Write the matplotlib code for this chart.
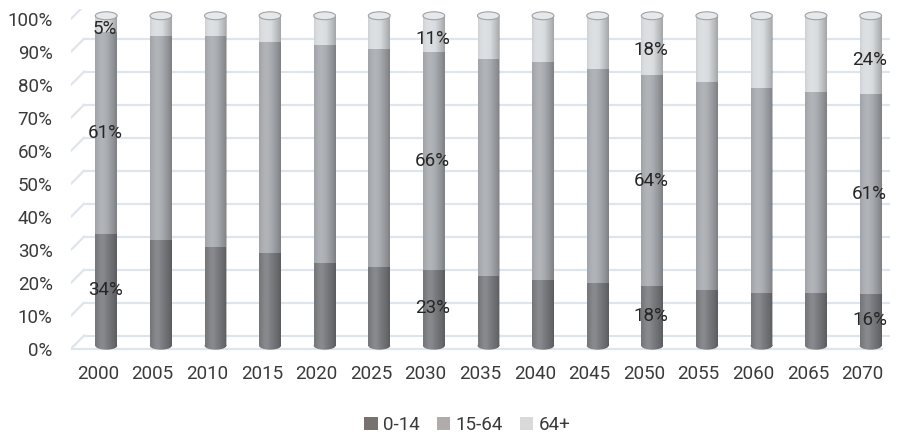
import numpy as np
import matplotlib.pyplot as plt
from matplotlib.patches import Rectangle, Ellipse

plt.rcParams['font.family'] = ['Roboto', 'DejaVu Sans']

years = ['2000', '2005', '2010', '2015', '2020', '2025', '2030', '2035',
         '2040', '2045', '2050', '2055', '2060', '2065', '2070']
young = [34, 32, 30, 28, 25, 24, 23, 21, 20, 19, 18, 17, 16, 16, 15.6]
working = [61, 62, 64, 64, 66, 66, 66, 66, 66, 65, 64, 63, 62, 61, 60.8]
old = [5, 6, 6, 8, 9, 10, 11, 13, 14, 16, 18, 20, 22, 23, 23.6]
labeled = ['2000', '2030', '2050', '2070']
groups = ['0-14', '15-64', '64+']

bar_cols = ['#7a7c80', '#a8abaf', '#d9dcdf']
leg_cols = ['#77716f', '#b1acab', '#d9d9da']
grid_col = '#dfe5ec'
txt_col = '#3a3a3a'

fig = plt.figure(figsize=(8.99, 4.36), dpi=100)
ax = fig.add_axes([0.0787, 0.192, 0.911, 0.787])
ax.set_xlim(-0.5, 14.5)
ax.set_ylim(-1, 103)
for s in ax.spines.values():
    s.set_visible(False)

# fake 3d gridlines: front edge at the label, back wall a bit higher
depth = 4.0
for v in range(0, 101, 10):
    ax.plot([-0.5, -0.26], [v, v + depth], color=grid_col, lw=1.6, zorder=1)
    ax.plot([-0.26, 14.5], [v + depth, v + depth], color=grid_col, lw=1.6, zorder=1)
ax.plot([-0.5, 14.35], [0, 0], color=grid_col, lw=1.6, zorder=1)

t = np.linspace(0, 1, 80)
shift = 0.11 * np.exp(-((t - 0.33) / 0.2) ** 2) - 0.26 * ((t - 0.33) / 0.67) ** 2
rgba = np.zeros((1, len(t), 4))
rgba[0, shift > 0, :3] = 1.0
rgba[0, :, 3] = np.abs(shift)


def shaded(patch, x0, x1, y0, y1, z):
    ax.add_patch(patch)
    im = ax.imshow(rgba, extent=[x0, x1, y0, y1], aspect='auto',
                   interpolation='bilinear', zorder=z + 0.05)
    im.set_clip_path(patch)


w = 0.40
off = 0.15
base = 1.0
cap = 2.4
for i, yr in enumerate(years):
    xc = i + off
    x0, x1 = xc - w / 2, xc + w / 2
    # rounded bottom
    e = Ellipse((xc, base), w, cap, facecolor=bar_cols[0], edgecolor='none', zorder=2)
    shaded(e, x0, x1, base - cap, base + cap, 2)
    bottom = base
    for k, vals in enumerate([young, working, old]):
        h = vals[i]
        r = Rectangle((x0, bottom), w, h, facecolor=bar_cols[k], edgecolor='none', zorder=3)
        shaded(r, x0, x1, bottom, bottom + h, 3)
        if yr in labeled:
            ypos = bottom + h / 2 if k < 2 else bottom + h / 2 - 1.5
            ax.text(xc - 0.02, ypos, f'{round(h)}%', ha='center', va='center',
                    fontsize=13.5, color='#262626', zorder=6)
        bottom += h
    top = Ellipse((xc, bottom), w, cap, facecolor='#e6e8ea', edgecolor='#9ea2a7',
                  lw=0.8, zorder=4)
    ax.add_patch(top)

ax.set_yticks(range(0, 101, 10))
ax.set_yticklabels([f'{v}%' for v in range(0, 101, 10)])
ax.set_xticks(range(len(years)))
ax.set_xticklabels(years)
ax.tick_params(axis='both', length=0, labelsize=13.5, labelcolor=txt_col)
ax.tick_params(axis='y', pad=13)
ax.tick_params(axis='x', pad=9)

handles = [Rectangle((0, 0), 1, 1, facecolor=c, edgecolor='none') for c in leg_cols]
fig.legend(handles, groups, loc='lower center', bbox_to_anchor=(0.52, -0.035), ncol=3,
           frameon=False, fontsize=13.5, handlelength=0.7, handleheight=0.7,
           handletextpad=0.3, columnspacing=0.9, labelcolor=txt_col)

fig.savefig('out.png', dpi=100)
